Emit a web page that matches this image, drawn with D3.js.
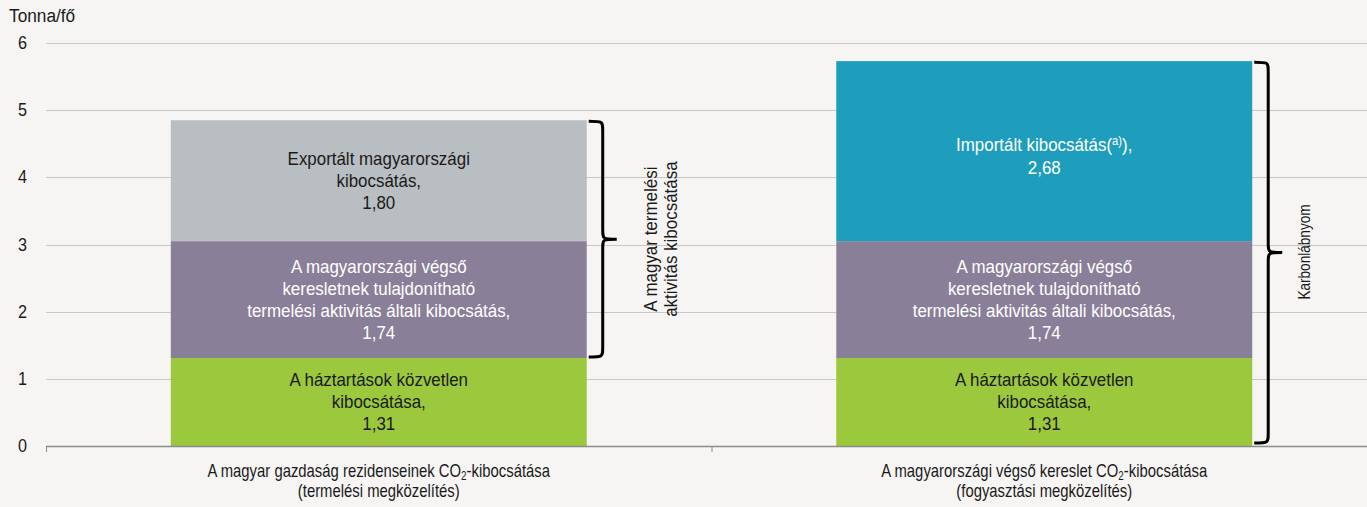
<!DOCTYPE html>
<html><head><meta charset="utf-8">
<script src="https://cdn.jsdelivr.net/npm/d3@7"></script>
<style>
html,body{margin:0;padding:0;background:#f6f5f3;}
svg{display:block;font-family:"Liberation Sans",Arial,sans-serif;}
</style></head>
<body><svg id="c" width="1367" height="507"></svg>
<script>
const categories = ["prod", "cons"];
const categoryLines = [
  [["A magyar gazdaság rezidenseinek CO", "2", "-kibocsátása"], ["(termelési megközelítés)"]],
  [["A magyarországi végső kereslet CO", "2", "-kibocsátása"], ["(fogyasztási megközelítés)"]]
];
const seriesNames = ["direct", "domestic", "exported", "imported"];
const directValues = [1.31, 1.31];
const domesticValues = [1.74, 1.74];
const exportedValues = [1.80, 0];
const importedValues = [0, 2.68];
const seriesColors = {direct:"#9bc83d", domestic:"#8a7f99", exported:"#b9bec2", imported:"#1e9dbc"};
const seriesTextColors = {direct:"#1a1a1a", domestic:"#ffffff", exported:"#1a1a1a", imported:"#ffffff"};
const labelLines = {
  direct: ["A háztartások közvetlen", "kibocsátása,", "{v}"],
  domestic: ["A magyarországi végső", "keresletnek tulajdonítható", "termelési aktivitás általi kibocsátás,", "{v}"],
  exported: ["Exportált magyarországi", "kibocsátás,", "{v}"],
  imported: ["Importált kibocsátás(", "{v}"]
};
const yTicks = [0, 1, 2, 3, 4, 5, 6];
const yTitle = "Tonna/fő";
const brace1Text = ["A magyar termelési", "aktivitás kibocsátása"];
const brace2Text = ["Karbonlábnyom"];

const svg = d3.select("#c");
const W = 1367, H = 507;
const x0 = 46, x1 = 1377, yTop = 43, yBot = 446;
const x = d3.scaleBand().domain(categories).range([x0, x1]).paddingInner(0).paddingOuter(0);
const y = d3.scaleLinear().domain([0, 6]).range([yBot, yTop]);
const barW = x.bandwidth() * 0.625;

// narrow text helper
function ntext(parent, tx, ty, size, sx, anchor, fill, rot) {
  const g = parent.append("g").attr("transform", `translate(${tx},${ty})${rot ? " rotate(-90)" : ""} scale(${sx},1)`);
  return g.append("text").attr("x", 0).attr("y", 0).attr("text-anchor", anchor)
    .attr("font-size", size).attr("fill", fill);
}

// gridlines
svg.append("g").selectAll("line").data(yTicks.filter(d => d > 0)).join("line")
  .attr("x1", x0).attr("x2", W).attr("y1", d => Math.round(y(d)) + 0.5).attr("y2", d => Math.round(y(d)) + 0.5)
  .attr("stroke", "#c8c8c8").attr("stroke-width", 1);

// y tick labels
yTicks.forEach(d => {
  ntext(svg, 27, y(d) + 6, 18, 0.9, "end", "#1a1a1a").text(d);
});
ntext(svg, 9, 22, 18, 0.96, "start", "#1a1a1a").text(yTitle);

// stack
const rows = categories.map((c, i) => ({cat: c, direct: directValues[i], domestic: domesticValues[i], exported: exportedValues[i], imported: importedValues[i]}));
const stack = d3.stack().keys(seriesNames)(rows);
const fmt = v => d3.format(".2f")(v).replace(".", ",");

stack.forEach(layer => {
  const key = layer.key;
  layer.forEach((seg, i) => {
    const v = seg[1] - seg[0];
    if (v <= 0) return;
    const cx = x(categories[i]) + x.bandwidth() / 2;
    svg.append("rect").attr("x", cx - barW / 2).attr("width", barW)
      .attr("y", y(seg[1])).attr("height", y(seg[0]) - y(seg[1])).attr("fill", seriesColors[key]);
    const lines = labelLines[key];
    const lh = key === "imported" ? 23 : 22;
    const midY = (y(seg[0]) + y(seg[1])) / 2;
    const startY = midY - (lines.length - 1) * lh / 2 + 6 + (key === "imported" ? 5 : 0);
    lines.forEach((ln, k) => {
      const t = ntext(svg, cx, startY + k * lh, 18, 0.94, "middle", seriesTextColors[key]);
      if (ln === "{v}") t.text(fmt(v));
      else if (key === "imported" && k === 0) {
        t.append("tspan").text(ln);
        t.append("tspan").attr("font-size", 12).attr("dy", -6).text("a)");
        t.append("tspan").attr("dy", 6).text("),");
      } else t.text(ln);
    });
  });
});

// x axis
svg.append("line").attr("x1", x0).attr("x2", W).attr("y1", yBot + 0.5).attr("y2", yBot + 0.5).attr("stroke", "#8c8c8c").attr("stroke-width", 1.5);
[x0, x(categories[1])].forEach(tx => {
  svg.append("line").attr("x1", tx + 0.5).attr("x2", tx + 0.5).attr("y1", yBot).attr("y2", yBot + 6).attr("stroke", "#8c8c8c").attr("stroke-width", 1);
});
categoryLines.forEach((lines, i) => {
  const cx = x(categories[i]) + x.bandwidth() / 2;
  lines.forEach((parts, k) => {
    const t = ntext(svg, cx, 477 + k * 20, 18, 0.826, "middle", "#1a1a1a");
    if (parts.length === 3) {
      t.append("tspan").text(parts[0]);
      t.append("tspan").attr("font-size", 12).attr("dy", 3).text(parts[1]);
      t.append("tspan").attr("dy", -3).text(parts[2]);
    } else t.text(parts[0]);
  });
});

// braces
function brace(xs, ya, yb, w) {
  const mid = (ya + yb) / 2, r = 10;
  const xm = xs + w * 0.5;
  return `M${xs},${ya} C${xm},${ya} ${xm},${ya} ${xm},${ya + r} L${xm},${mid - r} C${xm},${mid} ${xm},${mid} ${xs + w},${mid} C${xm},${mid} ${xm},${mid} ${xm},${mid + r} L${xm},${yb - r} C${xm},${yb} ${xm},${yb} ${xs},${yb}`;
}
const b1x = x(categories[0]) + x.bandwidth() / 2 + barW / 2 + 2;
svg.append("path").attr("d", brace(b1x, y(directValues[0] + domesticValues[0] + exportedValues[0]) + 1, y(directValues[0]) - 1, 28))
  .attr("fill", "none").attr("stroke", "#000").attr("stroke-width", 3);
const b2x = x(categories[1]) + x.bandwidth() / 2 + barW / 2 + 2;
svg.append("path").attr("d", brace(b2x, y(directValues[1] + domesticValues[1] + importedValues[1]) + 1, y(0) - 3, 28))
  .attr("fill", "none").attr("stroke", "#000").attr("stroke-width", 3);

function rotText(cx, cy, lines, size, sx) {
  const lh = 20;
  lines.forEach((ln, k) => {
    const off = (k - (lines.length - 1) / 2) * lh;
    ntext(svg, cx + off + 6, cy, size, sx, "middle", "#1a1a1a", true).text(ln);
  });
}
rotText(661, (y(4.85) + y(1.31)) / 2, brace1Text, 17.5, 0.97);
rotText(1304, 252, brace2Text, 17, 0.8);
</script></body></html>
